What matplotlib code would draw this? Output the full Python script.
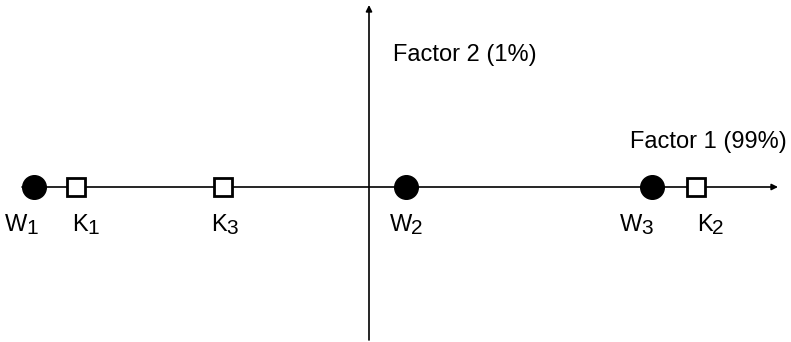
import numpy as np
import matplotlib.pyplot as plt

plt.rcParams['font.family'] = ['Liberation Sans', 'DejaVu Sans']

# factor scores (factor 2 is ~0 for all objects)
names = ['W', 'K', 'K', 'W', 'W', 'K']
subs = ['1', '1', '3', '2', '3', '2']
factor1 = [-3.345, -2.93, -1.46, 0.37, 2.83, 3.27]
factor2 = [0.0, 0.0, 0.0, 0.0, 0.0, 0.0]
axis_labels = ['Factor 1 (99%)', 'Factor 2 (1%)']

# label offsets in pixels (letter/digit junction relative to marker)
lab_dx = [-7, 12, 4, 6, -10, 17]
lab_dy = -38

fig = plt.figure(figsize=(7.91, 3.42), dpi=100)
ax = fig.add_axes([0, 0, 1, 1])
ax.set_xlim(-3.69, 4.22)
ax.set_ylim(-1.55, 1.87)
ax.axis('off')

# axes with arrows
ax.annotate('', xy=(4.09, 0), xytext=(-3.47, 0),
            arrowprops=dict(arrowstyle='-|>', color='black', lw=1.2,
                            mutation_scale=9, shrinkA=0, shrinkB=0))
ax.annotate('', xy=(0, 1.82), xytext=(0, -1.53),
            arrowprops=dict(arrowstyle='-|>', color='black', lw=1.2,
                            mutation_scale=9, shrinkA=0, shrinkB=0))

for n, s, x, y, dx in zip(names, subs, factor1, factor2, lab_dx):
    if n == 'W':
        ax.plot(x, y, 'o', ms=17, mfc='black', mec='black', zorder=3)
    else:
        ax.plot(x, y, 's', ms=13.5, mfc='white', mec='black', mew=2, zorder=3)
    ax.annotate(n, (x, y), xytext=(dx, lab_dy), textcoords='offset pixels',
                ha='right', va='center', fontsize=17)
    ax.annotate(s, (x, y), xytext=(dx - 1, lab_dy - 4), textcoords='offset pixels',
                ha='left', va='center', fontsize=15)

ax.text(4.18, 0.45, axis_labels[0], ha='right', va='center', fontsize=17)
ax.text(0.24, 1.32, axis_labels[1], ha='left', va='center', fontsize=17)

fig.savefig('out.png', dpi=100)
